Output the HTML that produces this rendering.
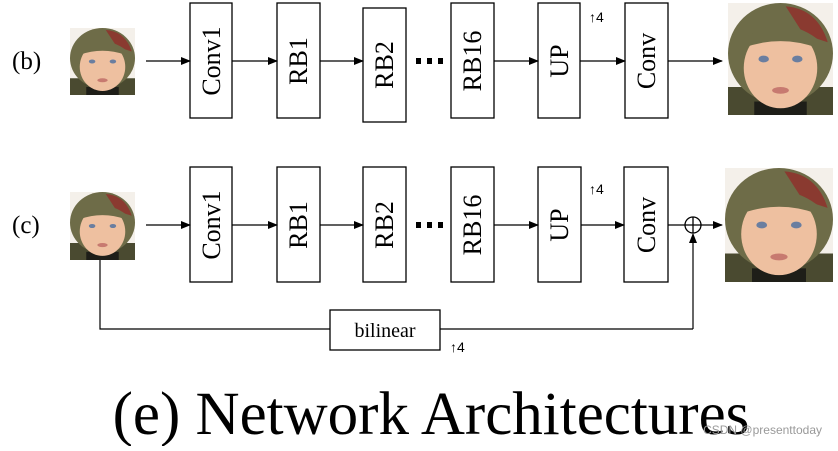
<!DOCTYPE html>
<html><head><meta charset="utf-8"><style>
body{margin:0;background:#fff;width:838px;height:446px;overflow:hidden}
</style></head><body>
<svg width="838" height="446" viewBox="0 0 838 446" xmlns="http://www.w3.org/2000/svg" font-family="Liberation Serif, serif">
<defs>
<marker id="a" markerWidth="10" markerHeight="8" refX="9" refY="4" orient="auto" markerUnits="userSpaceOnUse"><path d="M0,0 L10,4 L0,8z" fill="#000"/></marker>
<g id="face">
<rect x="0" y="0" width="100" height="100" fill="#f4f0ea"/>
<rect x="0" y="75" width="100" height="25" fill="#4a4a30"/>
<rect x="25" y="88" width="50" height="12" fill="#1e1e18"/>
<ellipse cx="50" cy="45" rx="50" ry="45" fill="#6e6c48"/>
<path d="M55,3 Q85,5 95,35 L72,28z" fill="#8a3a30"/>
<ellipse cx="50" cy="58" rx="35" ry="36" fill="#eec0a0"/>
<ellipse cx="34" cy="50" rx="5" ry="3" fill="#6a7ea0"/>
<ellipse cx="66" cy="50" rx="5" ry="3" fill="#6a7ea0"/>
<ellipse cx="50" cy="78" rx="8" ry="3" fill="#c77a70"/>
<path d="M15,32 Q50,8 85,32 L85,40 Q50,28 15,40z" fill="#6e6c48"/>
</g>
</defs>
<g fill="none" stroke="#000" stroke-width="1.3">
<rect x="190" y="3" width="42" height="115"/>
<rect x="277" y="3" width="43" height="115"/>
<rect x="363" y="8" width="43" height="114"/>
<rect x="451" y="3" width="43" height="115"/>
<rect x="538" y="3" width="42" height="115"/>
<rect x="625" y="3" width="43" height="115"/>
<rect x="190" y="167" width="42" height="115"/>
<rect x="277" y="167" width="43" height="115"/>
<rect x="363" y="167" width="43" height="115"/>
<rect x="451" y="167" width="43" height="115"/>
<rect x="538" y="167" width="43" height="115"/>
<rect x="624" y="167" width="44" height="115"/>
<rect x="330" y="310" width="110" height="40"/>
<circle cx="693" cy="225" r="8"/>
<path d="M685,225 H701 M693,217 V233"/>
</g>
<g stroke="#000" stroke-width="1.2" marker-end="url(#a)">
<line x1="146" y1="61" x2="190" y2="61"/>
<line x1="232" y1="61" x2="277" y2="61"/>
<line x1="320" y1="61" x2="363" y2="61"/>
<line x1="494" y1="61" x2="538" y2="61"/>
<line x1="580" y1="61" x2="625" y2="61"/>
<line x1="668" y1="61" x2="722" y2="61"/>
<line x1="146" y1="225" x2="190" y2="225"/>
<line x1="232" y1="225" x2="277" y2="225"/>
<line x1="320" y1="225" x2="363" y2="225"/>
<line x1="494" y1="225" x2="538" y2="225"/>
<line x1="581" y1="225" x2="624" y2="225"/>
<line x1="701" y1="225" x2="722" y2="225"/>
<line x1="693" y1="329" x2="693" y2="234"/>
</g>
<path d="M668,225 H685 M100,260 V329 H330 M440,329 H693" stroke="#000" stroke-width="1.2" fill="none"/>
<g fill="#000">
<rect x="416" y="58" width="5" height="6"/><rect x="427" y="58" width="5" height="6"/><rect x="438" y="58" width="5" height="6"/>
<rect x="416" y="222" width="5" height="6"/><rect x="427" y="222" width="5" height="6"/><rect x="438" y="222" width="5" height="6"/>
</g>
<g font-size="26" text-anchor="middle">
<text transform="translate(220,61) rotate(-90)">Conv1</text>
<text transform="translate(307,61) rotate(-90)">RB1</text>
<text transform="translate(393,65) rotate(-90)">RB2</text>
<text transform="translate(481,61) rotate(-90)">RB16</text>
<text transform="translate(568,61) rotate(-90)">UP</text>
<text transform="translate(655,61) rotate(-90)">Conv</text>
<text transform="translate(220,225) rotate(-90)">Conv1</text>
<text transform="translate(307,225) rotate(-90)">RB1</text>
<text transform="translate(393,225) rotate(-90)">RB2</text>
<text transform="translate(481,225) rotate(-90)">RB16</text>
<text transform="translate(568,225) rotate(-90)">UP</text>
<text transform="translate(655,225) rotate(-90)">Conv</text>
</g>
<text x="12" y="69" font-size="25">(b)</text>
<text x="12" y="233" font-size="25">(c)</text>
<text x="385" y="337" font-size="20" text-anchor="middle">bilinear</text>
<g font-family="Liberation Sans, sans-serif" font-size="14">
<text x="589" y="22">↑4</text><text x="589" y="194">↑4</text><text x="450" y="352">↑4</text>
</g>
<text x="431" y="434" font-size="61" text-anchor="middle">(e) Network Architectures</text>
<text x="822" y="434" font-size="12" fill="#999" text-anchor="end" font-family="Liberation Sans, sans-serif">CSDN @presenttoday</text>
<use href="#face" transform="translate(70,28) scale(0.65,0.67)"/>
<use href="#face" transform="translate(70,192) scale(0.65,0.68)"/>
<use href="#face" transform="translate(728,3) scale(1.05,1.12)"/>
<use href="#face" transform="translate(725,168) scale(1.08,1.14)"/>
</svg>
</body></html>
